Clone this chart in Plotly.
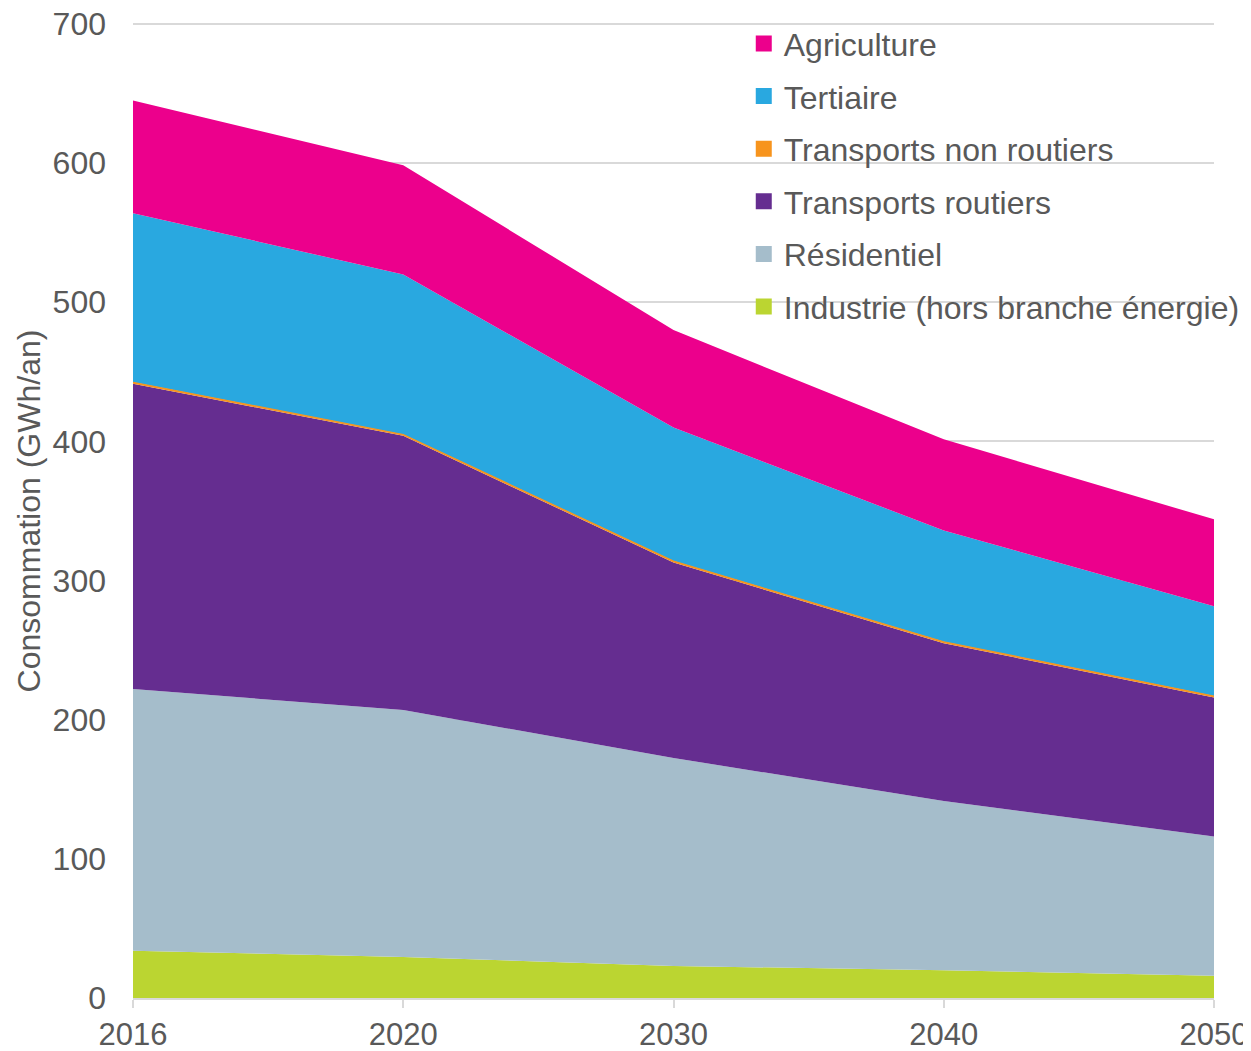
import plotly.graph_objects as go

years = ["2016", "2020", "2030", "2040", "2050"]
industrie = [34, 29.5, 23, 20, 16]
residentiel = [188, 177.5, 149.5, 121.5, 100]
transports_routiers = [219.5, 197, 140.5, 113.5, 100]
transports_non_routiers = [1, 1, 1, 1, 1]
tertiaire = [121.5, 115, 96, 80, 64.5]
agriculture = [81, 78.5, 70, 65.5, 62.5]

series = [
    ("Industrie (hors branche énergie)", industrie, "#BBD531"),
    ("Résidentiel", residentiel, "#A5BDCB"),
    ("Transports routiers", transports_routiers, "#652D90"),
    ("Transports non routiers", transports_non_routiers, "#F7941D"),
    ("Tertiaire", tertiaire, "#29A8E0"),
    ("Agriculture", agriculture, "#EC008C"),
]

xs = list(range(len(years)))
fig = go.Figure()
for i, (name, vals, col) in enumerate(series):
    lw = 1.2 if name == "Transports non routiers" else 0
    fig.add_trace(go.Scatter(
        x=xs, y=vals, name=name, stackgroup="one", mode="lines",
        line=dict(width=lw, color=col), fillcolor=col,
        showlegend=False, hoverinfo="x+y+name",
    ))

# legend entries (square swatches), top to bottom as in the reference
for i, (name, vals, col) in enumerate(reversed(series)):
    fig.add_trace(go.Scatter(
        x=[None], y=[None], name=name, mode="markers",
        marker=dict(symbol="square", size=17, color=col),
        legendgroup=f"g{i}", legendrank=i + 1, showlegend=True,
    ))

# top gridline (at the upper edge of the plot area)
fig.add_shape(type="line", xref="paper", yref="paper", x0=0, x1=1, y0=1, y1=1,
              line=dict(color="#D9D9D9", width=2), layer="below")

font = "Liberation Sans"
fs = 32
fig.update_layout(
    width=1243, height=1043,
    margin=dict(l=125, r=37, t=16, b=53, autoexpand=False),
    paper_bgcolor="white", plot_bgcolor="white",
    font=dict(family=font, color="#595959", size=fs),
    xaxis=dict(
        tickmode="array", tickvals=xs, ticktext=years, range=[0, 4],
        showgrid=False, showline=True, linecolor="#D9D9D9", linewidth=2,
        ticks="outside", tickcolor="#D9D9D9", ticklen=8, tickwidth=2,
        tickfont=dict(size=31, color="#595959"), zeroline=False, automargin=False,
        ticklabeloverflow="allow",
    ),
    yaxis=dict(
        range=[0, 700], dtick=100, showgrid=True, gridcolor="#D9D9D9", gridwidth=2,
        zeroline=False, showline=False, ticks="", ticklabelstandoff=26,
        tickfont=dict(size=fs, color="#595959"), automargin=False,
        ticklabeloverflow="allow",
        title=dict(text="Consommation (GWh/an)", font=dict(size=fs, color="#595959"), standoff=2),
    ),
    legend=dict(
        x=0.565, y=1.008, xanchor="left", yanchor="top",
        traceorder="grouped", tracegroupgap=8,
        bgcolor="rgba(0,0,0,0)", font=dict(size=fs, color="#595959", family=font),
        itemwidth=30,
    ),
    showlegend=True,
)
fig.write_html("out.html")
